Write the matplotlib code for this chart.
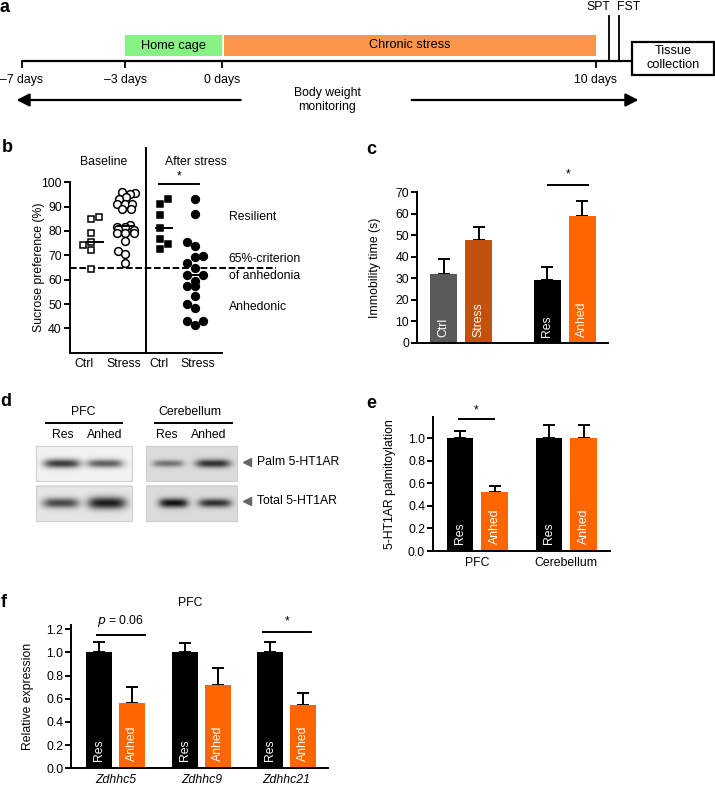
import numpy as np
import matplotlib
matplotlib.use('Agg')
import matplotlib.pyplot as plt
from matplotlib.patches import Rectangle
from matplotlib.ticker import FormatStrFormatter

plt.rcParams['font.family'] = ['Liberation Sans', 'DejaVu Sans']
plt.rcParams['font.size'] = 8.8

W, H = 715, 786
LW = 1.4

# a: timeline
days = [-7, -3, 0, 10]
days_px = [21.7, 125, 221.7, 595.7]
day_labels = ['–7 days', '–3 days', '0 days', '10 days']
phases = ['Home cage', 'Chronic stress']
phase_start = [-3, 0]
phase_end = [0, 10]
phase_colors = ['#86f283', '#ff9548']
tests = ['SPT', 'FST']
tests_px = [609, 619]

# b: sucrose preference (%)
base_ctrl = [85.9, 84.8, 79.0, 75.5, 74.1, 72.1, 64.2]
base_ctrl_x = [0.78, 0.57, 0.57, 0.57, 0.35, 0.57, 0.57]
base_stress = [96.0, 95.5, 95.0, 94.0, 93.0, 91.0, 91.0, 91.0, 89.0, 89.0,
               81.8, 82.6, 81.5, 81.0, 80.5, 79.0, 79.0, 79.0, 76.0, 71.8, 70.5, 66.8]
base_stress_x = [1.37, 1.72, 1.58, 1.48, 1.30, 1.26, 1.45, 1.64, 1.37, 1.62,
                 1.26, 1.60, 1.45, 1.28, 1.70, 1.26, 1.45, 1.70, 1.45, 1.28, 1.47, 1.47]
after_ctrl = [93.0, 91.2, 86.7, 81.2, 76.6, 74.7, 72.5]
after_ctrl_x = [2.59, 2.37, 2.37, 2.37, 2.37, 2.59, 2.37]
after_stress = [93.0, 86.8, 75.5, 73.7, 69.7, 69.5, 67.0, 64.9, 62.1, 62.1,
                59.5, 57.4, 57.4, 53.3, 50.0, 48.3, 42.9, 42.9, 41.2]
after_stress_x = [3.30, 3.30, 3.09, 3.30, 3.50, 3.30, 3.09, 3.30, 3.09, 3.50,
                  3.30, 3.09, 3.30, 3.30, 3.09, 3.30, 3.09, 3.50, 3.30]
b_labels = ['Ctrl', 'Stress', 'Ctrl', 'Stress']

# c: forced swim test
c_labels = ['Ctrl', 'Stress', 'Res', 'Anhed']
c_means = [32, 48, 29, 59]
c_errs = [7, 6, 6, 7]
c_colors = ['#5a5a5a', '#c2510e', '#000000', '#ff6600']

# d: western blot
d_regions = ['PFC', 'Cerebellum']
d_lanes = ['Res', 'Anhed']
d_rows = ['Palm 5-HT1AR', 'Total 5-HT1AR']
# (centre, half width, darkness, thickness) for each band
palm_pfc = [(0.27, 0.19, 0.72, 0.13), (0.72, 0.19, 0.58, 0.12)]
total_pfc = [(0.26, 0.19, 0.62, 0.14), (0.74, 0.20, 0.80, 0.17)]
palm_cer = [(0.24, 0.17, 0.42, 0.10), (0.73, 0.19, 0.68, 0.12)]
total_cer = [(0.30, 0.16, 0.80, 0.13), (0.75, 0.18, 0.68, 0.12)]

# e: 5-HT1AR palmitoylation
e_groups = ['PFC', 'Cerebellum']
e_res = [1.0, 1.0]
e_res_err = [0.07, 0.12]
e_anhed = [0.52, 1.0]
e_anhed_err = [0.06, 0.12]

# f: relative expression in PFC
f_genes = ['Zdhhc5', 'Zdhhc9', 'Zdhhc21']
f_res = [1.0, 1.0, 1.0]
f_res_err = [0.09, 0.08, 0.09]
f_anhed = [0.56, 0.72, 0.55]
f_anhed_err = [0.14, 0.15, 0.10]

RES_COLOR = '#000000'
ANHED_COLOR = '#ff6600'


fig = plt.figure(figsize=(W / 100, H / 100), dpi=100)
tela = fig.add_axes([0, 0, 1, 1])
tela.axis('off')


def px_axes(x0, y0, x1, y1):
    return fig.add_axes([x0 / W, 1 - y1 / H, (x1 - x0) / W, (y1 - y0) / H])


def style_axes(ax):
    for s in ['top', 'right']:
        ax.spines[s].set_visible(False)
    for s in ['left', 'bottom']:
        ax.spines[s].set_linewidth(LW)
    ax.tick_params(axis='y', direction='out', length=4, width=LW, pad=1.5)
    ax.tick_params(axis='x', length=0, pad=4)
    ax.patch.set_visible(False)


def up_errors(ax, x, means, errs):
    ax.errorbar(x, means, yerr=[np.zeros(len(errs)), errs], fmt='none', ecolor='k',
                elinewidth=LW, capsize=4, capthick=LW, zorder=1)


def bar_texts(ax, x, labels, y0):
    for xi, lab in zip(x, labels):
        ax.text(xi, y0, lab, rotation=90, ha='center', va='bottom', color='white', zorder=3)


def signif(ax, x0, x1, y, text, ty, **kw):
    ax.plot([x0, x1], [y, y], color='k', lw=LW, clip_on=False)
    ax.text((x0 + x1) / 2, ty, text, ha='center', va='center', **kw)


# ---------- a ----------
def day_px(d):
    return np.interp(d, days, days_px)


line_y = 60.7
tela.plot([days_px[0], 631.7], [line_y, line_y], color='k', lw=1.6, solid_capstyle='butt')
for d, lab in zip(days, day_labels):
    x = day_px(d)
    tela.plot([x, x], [line_y, 67], color='k', lw=1.3)
    tela.text(x, 80, lab, ha='center', va='center')
for name, ini, end, cor in zip(phases, phase_start, phase_end, phase_colors):
    x0 = day_px(ini) + (2.3 if ini == 0 else 0)
    x1 = day_px(end)
    tela.add_patch(Rectangle((x0, 35.3), x1 - x0, 20.4, fc=cor, ec='none'))
    tela.text((x0 + x1) / 2, 45.5, name, ha='center', va='center', fontsize=9.2)
for t, x, ha in zip(tests, tests_px, ['right', 'left']):
    tela.plot([x, x], [15.7, line_y], color='k', lw=1.3)
    tela.text(x + (1 if ha == 'right' else -1.5), 6.5, t, ha=ha, va='center')
tela.add_patch(Rectangle((631.7, 41.7), 82.3, 33.3, fc='white', ec='k', lw=1.6))
tela.text(673, 58.3, 'Tissue\ncollection', ha='center', va='center', fontsize=9.2)
tela.text(327, 100, 'Body weight\nmonitoring', ha='center', va='center', linespacing=1.3)
arrow = dict(arrowstyle='-|>,head_length=0.55,head_width=0.28', color='k', lw=1.6,
             mutation_scale=14, shrinkA=0, shrinkB=0)
tela.annotate('', xy=(16.5, 100), xytext=(240.7, 100), arrowprops=arrow)
tela.annotate('', xy=(638.5, 100), xytext=(411.7, 100), arrowprops=arrow)

# panel letters
for lt, x, y in [('a', 5, 8), ('b', 7, 148), ('c', 371.7, 149), ('d', 6, 401.7),
                 ('e', 371.7, 404), ('f', 4, 602.5)]:
    tela.text(x, y, lt, ha='center', va='center', fontsize=13, fontweight='bold')

# ---------- b ----------
axb = px_axes(69.5, 182.3, 221.7, 352.7)
style_axes(axb)
axb.set_xlim(0, 4)
axb.set_ylim(30, 100)
axb.set_yticks(range(40, 101, 10))
axb.set_xticks([0.39, 1.42, 2.36, 3.38])
axb.set_xticklabels(b_labels)
axb.plot([2, 2], [30, 114], color='k', lw=LW, clip_on=False)
axb.plot([0, 5.44], [65, 65], color='k', lw=LW, dashes=(3.4, 1.4), clip_on=False)
mk = dict(linestyle='none', markeredgecolor='k', markeredgewidth=1.1, zorder=3, clip_on=False)
axb.plot(base_ctrl_x, base_ctrl, marker='s', ms=5, markerfacecolor='white', **mk)
axb.plot(base_stress_x, base_stress, marker='o', ms=5.6, markerfacecolor='white', **mk)
axb.plot(after_ctrl_x, after_ctrl, marker='s', ms=5, markerfacecolor='k', **mk)
axb.plot(after_stress_x, after_stress, marker='o', ms=5.6, markerfacecolor='k', **mk)
for xc, vals in zip([0.66, 1.48, 2.48, 3.4], [base_ctrl, base_stress, after_ctrl, after_stress]):
    m = np.median(vals)
    axb.plot([xc - 0.21, xc + 0.21], [m, m], color='k', lw=LW, zorder=4)
axb.set_ylabel('Sucrose preference (%)')
axb.yaxis.set_label_coords(-0.16, 0.5)
axb.text(0.89, 108.5, 'Baseline', ha='center', va='center', clip_on=False)
axb.text(3.33, 108.5, 'After stress', ha='center', va='center', clip_on=False)
signif(axb, 2.35, 3.41, 99.2, '*', 102.5)
axb.text(4.2, 85.8, 'Resilient', ha='left', va='center', clip_on=False)
axb.text(4.18, 68.4, '65%-criterion', ha='left', va='center', clip_on=False)
axb.text(4.18, 61.6, 'of anhedonia', ha='left', va='center', clip_on=False)
axb.text(4.2, 48.8, 'Anhedonic', ha='left', va='center', clip_on=False)

# ---------- c ----------
axc = px_axes(416.7, 192.3, 608, 342.7)
style_axes(axc)
xc = np.array([0.77, 1.77, 3.74, 4.73])
axc.bar(xc, c_means, width=0.77, color=c_colors, zorder=2)
up_errors(axc, xc, c_means, c_errs)
bar_texts(axc, xc, c_labels, 2.5)
axc.set_xlim(0, 5.47)
axc.set_ylim(0, 70)
axc.set_yticks(range(0, 71, 10))
axc.set_xticks([])
axc.set_ylabel('Immobility time (s)')
axc.yaxis.set_label_coords(-0.185, 0.5)
signif(axc, 3.75, 4.9, 73.3, '*', 78.5)

# ---------- d ----------
def blot(x0, y0, x1, y1, fundo, bandas):
    h, w = int(round(y1 - y0)) * 3, int(round(x1 - x0)) * 3
    yy, xx = np.mgrid[0:1:h * 1j, 0:1:w * 1j]
    img = np.full((h, w), fundo)
    for xm, hw, esc, sig in bandas:
        img = img - esc * np.exp(-((yy - 0.5) / sig) ** 2) * np.exp(-np.abs((xx - xm) / hw) ** 4)
    tela.imshow(np.clip(img, 0, 1), cmap='gray', vmin=0, vmax=1, extent=(x0, x1, y1, y0),
                interpolation='bilinear', aspect='auto')
    tela.add_patch(Rectangle((x0, y0), x1 - x0, y1 - y0, fill=False, ec='#cfcfcf', lw=0.8))


blot(36, 446, 132, 480.7, 0.95, palm_pfc)
blot(36, 485.7, 132, 520.7, 0.90, total_pfc)
blot(145.7, 446, 237, 480.7, 0.86, palm_cer)
blot(145.7, 485.7, 237, 520.7, 0.86, total_cer)
for reg, xm, x0, x1, lanes_x in [(d_regions[0], 83.3, 45.7, 121.7, [63.3, 105]),
                                  (d_regions[1], 190, 155, 231.7, [166.7, 208.3])]:
    tela.text(xm, 411.7, reg, ha='center', va='center')
    tela.plot([x0, x1], [422.7, 422.7], color='k', lw=LW)
    for lane, lx in zip(d_lanes, lanes_x):
        tela.text(lx, 435, lane, ha='center', va='center')
for row, y in zip(d_rows, [461.7, 500.5]):
    tela.plot([246.7], [y], marker='<', ms=6, color='#666666', linestyle='none')
    tela.text(257, y, row, ha='left', va='center')

# ---------- e ----------
axe = px_axes(432.7, 417.1, 610, 551)
style_axes(axe)
xe = np.array([0.78, 3.33])
axe.bar(xe, e_res, width=0.76, color=RES_COLOR, zorder=2)
axe.bar(xe + 0.99, e_anhed, width=0.76, color=ANHED_COLOR, zorder=2)
up_errors(axe, xe, e_res, e_res_err)
up_errors(axe, xe + 0.99, e_anhed, e_anhed_err)
bar_texts(axe, xe, ['Res'] * 2, 0.06)
bar_texts(axe, xe + 0.99, ['Anhed'] * 2, 0.06)
axe.set_xlim(0, 5.07)
axe.set_ylim(0, 1.19)
axe.set_yticks(np.arange(0, 1.01, 0.2))
axe.yaxis.set_major_formatter(FormatStrFormatter('%.1f'))
axe.set_xticks([1.27, 3.8])
axe.set_xticklabels(e_groups)
axe.set_ylabel('5-HT1AR palmitoylation')
axe.yaxis.set_label_coords(-0.205, 0.5)
signif(axe, 0.75, 1.76, 1.176, '*', 1.25)

# ---------- f ----------
axf = px_axes(71, 625, 328, 768.3)
style_axes(axf)
xf = np.array([0.86, 3.45, 6.03])
axf.bar(xf, f_res, width=0.79, color=RES_COLOR, zorder=2)
axf.bar(xf + 1.0, f_anhed, width=0.79, color=ANHED_COLOR, zorder=2)
up_errors(axf, xf, f_res, f_res_err)
up_errors(axf, xf + 1.0, f_anhed, f_anhed_err)
bar_texts(axf, xf, ['Res'] * 3, 0.066)
bar_texts(axf, xf + 1.0, ['Anhed'] * 3, 0.066)
axf.set_xlim(0, 7.79)
axf.set_ylim(0, 1.237)
axf.set_yticks(np.arange(0, 1.21, 0.2))
axf.yaxis.set_major_formatter(FormatStrFormatter('%.1f'))
axf.set_xticks(xf + 0.5)
axf.set_xticklabels(f_genes, fontstyle='italic')
axf.set_ylabel('Relative expression')
axf.yaxis.set_label_coords(-0.145, 0.5)
axf.text(3.6, 1.43, 'PFC', ha='center', va='center', clip_on=False)
signif(axf, 0.78, 2.24, 1.151, r'$p$ = 0.06', 1.27)
signif(axf, 5.82, 7.27, 1.177, '*', 1.27)

tela.set_xlim(0, W)
tela.set_ylim(H, 0)

fig.savefig('out.png', dpi=100)
